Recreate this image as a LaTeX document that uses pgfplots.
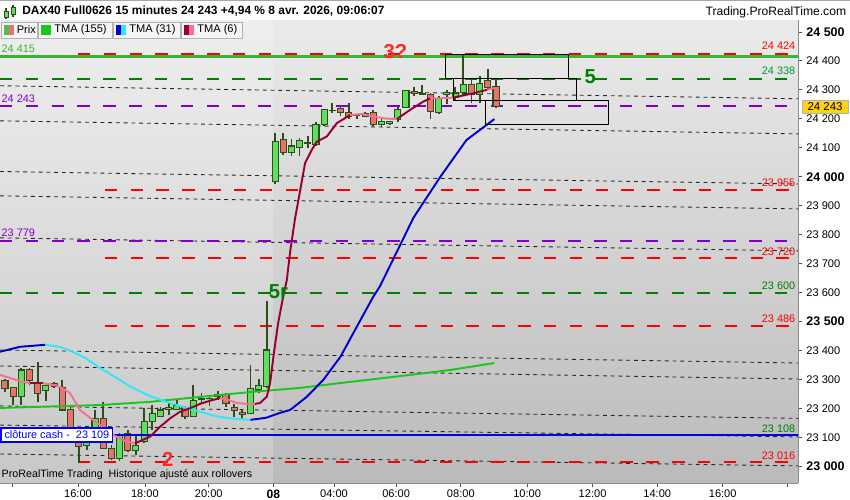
\documentclass[border=0pt]{standalone}
\usepackage{fontspec}
\setmainfont{Liberation Sans}
\usepackage{pgfplots}
\usepackage{pgfplotstable}
\pgfplotsset{compat=1.18}

\definecolor{upfill}{RGB}{95,222,95}
\definecolor{dnfill}{RGB}{234,114,110}
\definecolor{candleline}{RGB}{45,78,22}
\definecolor{tmagreen}{RGB}{25,200,25}
\definecolor{tmablue}{RGB}{0,0,205}
\definecolor{tmacyan}{RGB}{50,230,250}
\definecolor{tmadark}{RGB}{150,0,50}
\definecolor{tmapink}{RGB}{250,110,145}
\definecolor{lvred}{RGB}{255,0,0}
\definecolor{lvgreen}{RGB}{0,128,0}
\definecolor{lvpurple}{RGB}{128,0,200}
\definecolor{lvblue}{RGB}{0,0,230}
\definecolor{solidgreen}{RGB}{60,180,50}
\definecolor{tagyellow}{RGB}{255,210,20}

\newcommand\B[1]{{\fontsize{7.1}{8}\selectfont\bfseries #1}}

% bougies 15 min : index, ouverture, haut, bas, clôture
\pgfplotstableread{
k O H L C
0 23296 23301 23256 23270
1 23274 23276 23212 23241
2 23243 23340 23212 23333
3 23336 23340 23280 23296
4 23287 23362 23224 23253
5 23261 23280 23227 23278
6 23285 23290 23270 23275
7 23274 23299 23190 23195
8 23198 23205 23100 23105
9 23105 23110 23011 23069
10 23074 23115 23057 23101
11 23100 23195 23095 23166
12 23166 23224 23060 23063
13 23063 23075 23022 23029
14 23029 23115 23020 23109
15 23115 23126 23051 23055
16 23055 23105 23040 23074
17 23085 23201 23080 23155
18 23155 23212 23126 23184
19 23172 23205 23170 23195
20 23198 23224 23178 23205
21 23198 23230 23195 23210
22 23205 23210 23163 23174
23 23174 23281 23170 23227
24 23230 23253 23218 23236
25 23233 23243 23210 23234
26 23241 23260 23230 23247
27 23247 23255 23207 23218
28 23204 23215 23170 23193
29 23187 23200 23160 23181
30 23183 23350 23180 23270
31 23264 23301 23253 23281
32 23275 23570 23270 23402
33 23983 24152 23975 24121
34 24130 24152 24075 24083
35 24083 24130 24072 24106
36 24102 24133 24072 24124
37 24116 24140 24098 24118
38 24110 24190 24105 24181
39 24179 24235 24175 24231
40 24228 24254 24221 24230
41 24237 24240 24208 24222
42 24222 24254 24200 24208
43 24210 24218 24200 24212
44 24208 24225 24205 24217
45 24222 24230 24175 24179
46 24181 24200 24173 24190
47 24183 24193 24180 24190
48 24197 24240 24190 24233
49 24239 24300 24236 24297
50 24294 24311 24280 24288
51 24283 24317 24282 24286
52 24283 24290 24199 24225
53 24223 24280 24218 24271
54 24285 24300 24250 24290
55 24274 24310 24260 24289
56 24290 24421 24280 24317
57 24317 24337 24253 24283
58 24283 24348 24254 24323
59 24332 24371 24300 24309
60 24311 24337 24237 24243
}\candles

\begin{document}
\begin{tikzpicture}[x=1cm,y=1cm]
\useasboundingbox (0,0) rectangle (17,10);
\fill[white] (0,0) rectangle (17,10);
\begin{axis}[
  at={(0cm,0.34cm)}, anchor=south west,
  scale only axis, width=15.96cm, height=9.26cm,
  xmin=-0.61, xmax=96.9, ymin=22943, ymax=24541,
  axis x line*=bottom, axis y line*=right,
  axis line style={black!45},
  tick align=outside, major tick length=0.08cm,
  tick style={black!70, line width=0.4pt},
  ytick={23000,23100,23200,23300,23400,23500,23600,23700,23800,23900,24000,24100,24200,24300,24400,24500},
  yticklabels={\B{23 000},23 100,23 200,23 300,23 400,\B{23 500},23 600,23 700,23 800,23 900,\B{24 000},24 100,24 200,24 300,24 400,\B{24 500}},
  yticklabel style={font=\fontsize{6.3}{7}\selectfont, anchor=west, xshift=-1pt},
  xtick={0.9,8.92,17.1,24.9,32.8,40.2,47.8,55.7,63.8,71.8,79.7,87.7,95.6},
  xticklabels={,16:00,18:00,20:00,{\fontsize{6.9}{7}\selectfont\bfseries 08},04:00,06:00,08:00,10:00,12:00,14:00,16:00,},
  xticklabel style={font=\fontsize{6.3}{7}\selectfont, anchor=north, yshift=2pt},
  axis background/.style={top color=black!8, bottom color=black!27},
  dotl/.style={black!85, line width=0.5pt, dash pattern=on 2.2pt off 2.2pt},
  lvl/.style={line width=1.1pt, dash pattern=on 7.1pt off 7.6pt},
  ma/.style={line width=1.1pt},
]
% zone de la séance précédente, plus claire
\fill[white, opacity=0.2] (axis cs:-0.61,22943) rectangle (axis cs:32.8,24541);

% lignes pointillées obliques
\addplot[dotl] coordinates {(-0.61,24314) (96.9,24269)};
\addplot[dotl] coordinates {(-0.61,24193) (96.9,24148)};
\addplot[dotl] coordinates {(-0.61,24018) (96.9,23975)};
\addplot[dotl] coordinates {(-0.61,23934) (96.9,23889)};
\addplot[dotl] coordinates {(-0.61,23789) (96.9,23744)};
\addplot[dotl] coordinates {(-0.61,23402) (96.9,23357)};
\addplot[dotl] coordinates {(-0.61,23347) (96.9,23302)};
\addplot[dotl] coordinates {(-0.61,23209) (96.9,23166)};
\addplot[dotl] coordinates {(-0.61,23143) (96.9,23102)};
\addplot[dotl] coordinates {(-0.61,23043) (96.9,23002)};

% niveaux horizontaux
\addplot[lvl, lvred] coordinates {(8.92,24424) (96.9,24424)};
\addplot[solidgreen, line width=1.3pt] coordinates {(-0.61,24415) (96.9,24415)};
\addplot[lvl, lvgreen] coordinates {(-0.61,24338) (96.9,24338)};
\addplot[lvl, lvpurple] coordinates {(-0.61,24243) (96.9,24243)};
\addplot[lvl, lvred] coordinates {(12.2,23955) (96.9,23955)};
\addplot[lvl, lvpurple] coordinates {(-0.61,23779) (96.9,23779)};
\addplot[lvl, lvred] coordinates {(12.2,23720) (96.9,23720)};
\addplot[lvl, lvgreen] coordinates {(-0.61,23600) (96.9,23600)};
\addplot[lvl, lvred] coordinates {(12.2,23486) (96.9,23486)};
\addplot[lvl, lvred] coordinates {(8.92,23016) (96.9,23016)};

% bougies
\pgfplotsinvokeforeach{0,...,60}{%
  \pgfplotstablegetelem{#1}{O}\of\candles \let\cO\pgfplotsretval
  \pgfplotstablegetelem{#1}{H}\of\candles \let\cH\pgfplotsretval
  \pgfplotstablegetelem{#1}{L}\of\candles \let\cL\pgfplotsretval
  \pgfplotstablegetelem{#1}{C}\of\candles \let\cC\pgfplotsretval
  \ifnum\cC<\cO \def\cfill{dnfill}\else\def\cfill{upfill}\fi
  \pgfmathsetmacro\xa{#1-0.37}\pgfmathsetmacro\xb{#1+0.37}%
  \edef\tmp{\noexpand\draw[candleline, line width=1pt] (axis cs:#1,\cL) -- (axis cs:#1,\cH);
    \noexpand\filldraw[draw=candleline, line width=0.6pt, fill=\cfill] (axis cs:\xa,\cO) rectangle (axis cs:\xb,\cC);}%
  \tmp
}

\addplot[lvblue, line width=1.1pt] coordinates {(-0.61,23108) (96.9,23108)};

% TMA (155)
\addplot[ma, tmagreen] coordinates {(-0.61,23202) (11.6,23212) (17.7,23223) (23.8,23240) (30,23257) (36,23271) (42.2,23292) (48.3,23312) (54.4,23333) (59.8,23357)};
% TMA (31)
\addplot[ma, tmablue] coordinates {(-0.61,23396) (1.83,23413) (4.9,23420)};
\addplot[ma, tmacyan] coordinates {(4.9,23420) (6.7,23413) (7.95,23400) (9.78,23375) (11.6,23340) (13.45,23309) (15.3,23276) (17.7,23243) (19.6,23224) (22,23204) (23.84,23189) (25.67,23174) (27.5,23166) (30,23161)};
\addplot[ma, tmablue] coordinates {(30,23161) (31.9,23168) (33.6,23185) (34.84,23195) (36.9,23241) (38.9,23299) (41,23379) (43,23483) (45,23586) (45.8,23621) (48.3,23765) (49.9,23858) (53.2,24000) (56.4,24127) (59.8,24199)};
% TMA (6)
\addplot[ma, tmapink] coordinates {(-0.61,23316) (1.83,23295) (3.06,23287)};
\addplot[ma, tmadark] coordinates {(3.06,23287) (4.65,23287)};
\addplot[ma, tmapink] coordinates {(4.65,23287) (6.11,23281) (6.97,23271) (7.95,23253) (9.17,23195) (10.39,23168) (11.61,23143) (13.2,23109) (14.67,23088) (15.89,23080)};
\addplot[ma, tmadark] coordinates {(15.89,23080) (17.73,23103) (18.95,23137) (20.17,23166) (21.39,23189) (22.62,23201) (23.84,23216) (25.06,23227) (26.28,23236)};
\addplot[ma, tmapink] coordinates {(26.28,23236) (27.26,23230) (28.36,23219) (29.58,23216) (30.56,23216)};
\addplot[ma, tmadark] coordinates {(30.56,23216) (31.17,23219) (31.99,23241) (32.4,23288) (32.8,23379) (33.37,23494) (33.99,23586) (34.44,23644) (34.84,23740) (35.45,23857) (35.86,23920) (36.67,24047) (37.49,24093) (38.1,24121) (39.33,24139) (40.55,24185) (42.18,24213)};
\addplot[ma, tmapink] coordinates {(42.18,24213) (43.64,24217) (44.99,24208) (46.45,24201) (47.88,24199)};
\addplot[ma, tmadark] coordinates {(47.88,24199) (49.51,24231) (51.1,24259) (51.96,24271)};
\addplot[ma, tmapink] coordinates {(51.96,24271) (53.42,24271) (54.77,24273)};
\addplot[ma, tmadark] coordinates {(54.77,24273) (57.21,24288) (58.89,24300)};
\addplot[ma, tmapink] coordinates {(58.89,24300) (59.78,24306)};

% zones rectangulaires
\addplot[black, line width=0.6pt] coordinates {(53.8,24423) (68.8,24423) (68.8,24340) (53.8,24340) (53.8,24423)};
\addplot[black, line width=0.6pt] coordinates {(54.8,24340) (69.8,24340) (69.8,24262) (54.8,24262) (54.8,24340)};
\addplot[black, line width=0.6pt] coordinates {(58.7,24262) (73.8,24262) (73.8,24181) (58.7,24181) (58.7,24262)};

% étiquettes des niveaux
\begin{scope}[every node/.style={font=\fontsize{6.2}{7}\selectfont, inner sep=0pt}]
\node[anchor=east, text=lvred] at (axis cs:96.6,24452) {24 424};
\node[anchor=east, text=lvgreen!80!cyan] at (axis cs:96.6,24365) {24 338};
\node[anchor=east, text=lvred] at (axis cs:96.6,23979) {23 955};
\node[anchor=east, text=lvred] at (axis cs:96.6,23741) {23 720};
\node[anchor=east, text=lvgreen] at (axis cs:96.6,23623) {23 600};
\node[anchor=east, text=lvred] at (axis cs:96.6,23509) {23 486};
\node[anchor=east, text=lvgreen] at (axis cs:96.6,23130) {23 108};
\node[anchor=east, text=lvred] at (axis cs:96.6,23036) {23 016};
\node[anchor=west, text=solidgreen] at (axis cs:-0.45,24441) {24 415};
\node[anchor=west, text=lvpurple] at (axis cs:-0.45,24269) {24 243};
\node[anchor=west, text=lvpurple] at (axis cs:-0.45,23806) {23 779};
\end{scope}
\node[draw=lvblue, line width=1pt, fill=white, text=lvblue, anchor=west, inner sep=1.8pt,
  font=\fontsize{6.2}{7}\selectfont] at (axis cs:-0.55,23109) {clôture cash -\ \ 23 109};
\node[anchor=west, inner sep=0pt, font=\fontsize{6.1}{7}\selectfont] at (axis cs:-0.45,22972)
  {ProRealTime Trading\ \ Historique ajusté aux rollovers};

% repères
\begin{scope}[every node/.style={font=\fontsize{11.5}{12}\bfseries\selectfont, inner sep=0pt}]
\node[text=lvred!85!white] at (axis cs:47.7,24431) {3?};
\node[text=lvgreen] at (axis cs:71.5,24345) {5};
\node[text=lvgreen] at (axis cs:33.4,23602) {5r};
\node[text=lvred!85!white] at (axis cs:19.9,23023) {2};
\end{scope}
\end{axis}

% barre de titre
\fill[white] (0,9.6) rectangle (17,10);
\draw[black!35] (0,9.99) -- (17,9.99);
\draw[candleline, line width=0.6pt] (0.12,9.62) -- (0.12,9.84) (0.26,9.66) -- (0.26,9.9);
\filldraw[draw=candleline, fill=upfill, line width=0.4pt] (0.08,9.66) rectangle (0.16,9.78);
\filldraw[draw=candleline, fill=upfill, line width=0.4pt] (0.22,9.72) rectangle (0.30,9.86);
\node[anchor=west, inner sep=0pt, font=\fontsize{6.8}{8}\bfseries\selectfont] at (0.44,9.77)
  {DAX40 Full0626 15 minutes 24 243 +4,94 \% 8 avr. 2026, 09:06:07};
\node[anchor=east, inner sep=0pt, font=\fontsize{6.9}{8}\selectfont] at (16.93,9.75) {Trading.ProRealTime.com};

% légende
\begin{scope}[every node/.style={anchor=west, inner sep=0pt, font=\fontsize{6.3}{7}\selectfont}]
\filldraw[fill=black!4, draw=black!30] (0.02,9.24) rectangle (0.74,9.56);
\fill[upfill!85!black] (0.08,9.3) rectangle (0.18,9.5);
\fill[dnfill] (0.18,9.3) rectangle (0.28,9.5);
\node at (0.33,9.4) {Prix};
\filldraw[fill=black!4, draw=black!30] (0.76,9.24) rectangle (2.24,9.56);
\fill[tmagreen] (0.82,9.3) rectangle (1.02,9.5);
\node at (1.08,9.4) {TMA (155)};
\filldraw[fill=black!4, draw=black!30] (2.26,9.24) rectangle (3.6,9.56);
\fill[tmablue] (2.32,9.3) rectangle (2.42,9.5);
\fill[tmacyan] (2.42,9.3) rectangle (2.52,9.5);
\node at (2.58,9.4) {TMA (31)};
\filldraw[fill=black!4, draw=black!30] (3.62,9.24) rectangle (4.84,9.56);
\fill[tmadark] (3.68,9.3) rectangle (3.78,9.5);
\fill[tmapink] (3.78,9.3) rectangle (3.88,9.5);
\node at (3.94,9.4) {TMA (6)};
\end{scope}

% étiquette du dernier cours
\filldraw[fill=tagyellow, draw=black!30] (16.04,7.74) rectangle (16.96,8.0);
\node[inner sep=0pt, font=\fontsize{6.5}{7}\selectfont] at (16.5,7.87) {24 243};
\end{tikzpicture}
\end{document}
